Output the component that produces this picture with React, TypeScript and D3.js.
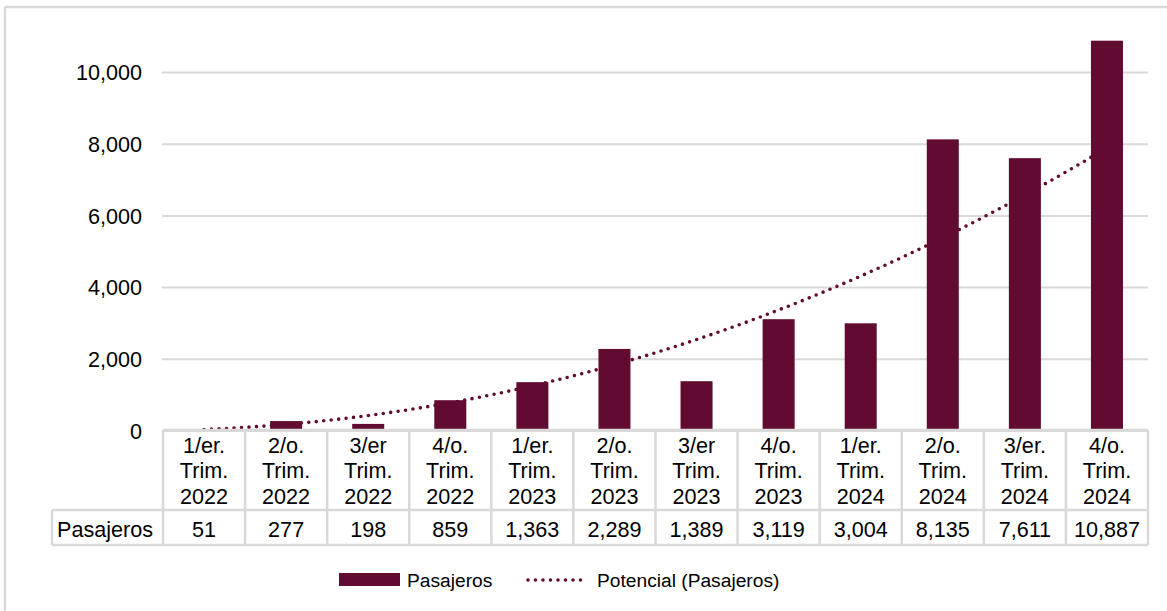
import React from 'react';
import * as d3 from 'd3';

const quarters = [
  ['1/er.', 'Trim.', '2022'],
  ['2/o.', 'Trim.', '2022'],
  ['3/er', 'Trim.', '2022'],
  ['4/o.', 'Trim.', '2022'],
  ['1/er.', 'Trim.', '2023'],
  ['2/o.', 'Trim.', '2023'],
  ['3/er', 'Trim.', '2023'],
  ['4/o.', 'Trim.', '2023'],
  ['1/er.', 'Trim.', '2024'],
  ['2/o.', 'Trim.', '2024'],
  ['3/er.', 'Trim.', '2024'],
  ['4/o.', 'Trim.', '2024'],
];
const pasajeros = [51, 277, 198, 859, 1363, 2289, 1389, 3119, 3004, 8135, 7611, 10887];
const yTicks = [0, 2000, 4000, 6000, 8000, 10000];
const seriesName = 'Pasajeros';
const trendName = 'Potencial (Pasajeros)';

const W = 1167;
const H = 611;
const BAR = '#620b31';
const GRID = '#d9d9d9';
const FONT = '"Liberation Sans", Arial, sans-serif';

// power trendline, least squares on log-log like Excel does
function powerFit(vals: number[]) {
  const lx = vals.map((_, i) => Math.log(i + 1));
  const ly = vals.map((v) => Math.log(v));
  const mx = d3.mean(lx)!;
  const my = d3.mean(ly)!;
  const b = d3.sum(lx, (x, i) => (x - mx) * (ly[i] - my)) / d3.sum(lx, (x) => (x - mx) ** 2);
  const a = Math.exp(my - b * mx);
  return (x: number) => a * Math.pow(x, b);
}

export default function App() {
  const left = 163;
  const right = 1148;
  const x = d3.scaleBand<number>().domain(d3.range(pasajeros.length)).range([left, right]);
  const y = d3.scaleLinear().domain([0, 10000]).range([431, 72.5]);
  const bw = x.bandwidth();
  const barW = bw * 0.39;
  const cx = (i: number) => x(i)! + bw / 2;

  const fit = powerFit(pasajeros);
  const xt = d3.scaleLinear().domain([1, pasajeros.length]).range([cx(0), cx(pasajeros.length - 1)]);
  const trendPts = d3.range(1, pasajeros.length + 0.001, 0.05).map((t) => [xt(t), y(fit(t))] as [number, number]);
  const trendPath = d3.line()(trendPts) || '';

  const tableTop = 430;
  const rowSplit = 510;
  const tableBottom = 545;
  const labelLeft = 52;
  const fs = 21.6;

  return (
    <svg width={W} height={H} style={{ position: 'absolute', left: 0, top: 0, background: '#fff' }} fontFamily={FONT}>
      {/* outer border (cropped: top and left only) */}
      <line x1={5} y1={7} x2={W} y2={7} stroke={GRID} strokeWidth={2.5} />
      <line x1={5} y1={7} x2={5} y2={H} stroke={GRID} strokeWidth={2.5} />

      {/* gridlines */}
      {yTicks.map((t) => (
        <g key={t}>
          <line x1={162} x2={right} y1={y(t)} y2={y(t)} stroke={GRID} strokeWidth={2} />
          <text x={142} y={y(t)} dy="0.36em" textAnchor="end" fontSize={fs} fill="#000">
            {d3.format(',')(t)}
          </text>
        </g>
      ))}

      {/* trendline (behind bars) */}
      <path d={trendPath} fill="none" stroke={BAR} strokeWidth={3.6} strokeLinecap="round" strokeDasharray="0 7.5" />

      {/* bars */}
      {pasajeros.map((v, i) => (
        <rect key={i} x={cx(i) - barW / 2} y={y(v)} width={barW} height={y(0) - y(v)} fill={BAR} />
      ))}

      {/* data table */}
      <g stroke={GRID} strokeWidth={2.5}>
        <line x1={left} x2={right} y1={tableTop} y2={tableTop} />
        <line x1={labelLeft} x2={right} y1={rowSplit} y2={rowSplit} />
        <line x1={labelLeft} x2={right} y1={tableBottom} y2={tableBottom} />
        <line x1={labelLeft} x2={labelLeft} y1={rowSplit} y2={tableBottom} />
        {d3.range(pasajeros.length + 1).map((i) => {
          const xx = i < pasajeros.length ? x(i)! : right;
          return <line key={i} x1={xx} x2={xx} y1={tableTop} y2={tableBottom} />;
        })}
      </g>
      {quarters.map((q, i) => (
        <text key={i} x={cx(i)} textAnchor="middle" fontSize={fs} fill="#000">
          {q.map((s, k) => (
            <tspan key={k} x={cx(i)} y={453 + k * 25.4}>
              {s}
            </tspan>
          ))}
        </text>
      ))}
      <text x={57} y={537} fontSize={fs} fill="#000">
        {seriesName}
      </text>
      {pasajeros.map((v, i) => (
        <text key={i} x={cx(i)} y={537} textAnchor="middle" fontSize={fs} fill="#000">
          {d3.format(',')(v)}
        </text>
      ))}

      {/* legend */}
      <rect x={339} y={573} width={61} height={13} fill={BAR} />
      <text x={407} y={586.5} fontSize={19.2} fill="#000">
        {seriesName}
      </text>
      <line x1={528} x2={588} y1={580} y2={580} stroke={BAR} strokeWidth={3.6} strokeLinecap="round" strokeDasharray="0 7.5" />
      <text x={597} y={586.5} fontSize={19.2} fill="#000">
        {trendName}
      </text>
    </svg>
  );
}
